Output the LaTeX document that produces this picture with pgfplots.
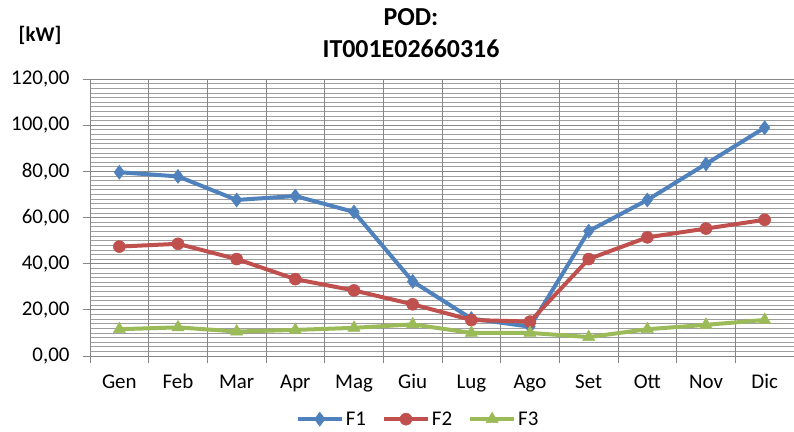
\documentclass[border=0pt]{standalone}
\usepackage{pgfplots}
\pgfplotsset{compat=1.18}
\usepackage{fontspec}
\setmainfont{Carlito}
\definecolor{cF1}{HTML}{4F81BD}
\definecolor{cF2}{HTML}{C0504D}
\definecolor{cF3}{HTML}{9BBB59}
\definecolor{gridc}{HTML}{868686}
\begin{document}
\begin{tikzpicture}
\useasboundingbox (-90bp,-76bp) rectangle (704bp,356bp);
\begin{axis}[
  at={(0,0)}, anchor=south west,
  scale only axis, width=704bp, height=277bp,
  xmin=-0.5, xmax=11.5, ymin=0, ymax=120,
  axis lines=left, axis line style={-, draw=gridc, line width=0.9bp},
  xtick={0,...,11},
  xticklabels={Gen,Feb,Mar,Apr,Mag,Giu,Lug,Ago,Set,Ott,Nov,Dic},
  xtick style={draw=none},
  extra x ticks={-0.5,0.5,...,11.5},
  extra x tick labels={},
  extra x tick style={grid=major, xtick style={draw=gridc, line width=0.9bp}},
  ytick={0,20,...,120},
  minor y tick num=9,
  ymajorgrids, yminorgrids,
  major grid style={draw=gridc, line width=0.9bp},
  minor grid style={draw=gridc!80, line width=0.6bp},
  tick align=outside, major tick length=7bp, minor tick length=0pt,
  ytick style={draw=gridc, line width=0.9bp},
  ticklabel style={font=\fontsize{21}{25}\selectfont, text=black},
  yticklabel style={xshift=-10bp, /pgf/number format/.cd, fixed, fixed zerofill, precision=2, use comma, assume math mode=true},
  xticklabel style={yshift=-15bp, text height=0.75em, text depth=0.22em},
  legend style={at={(0.466,-0.228)}, anchor=center, draw=none, legend columns=3,
    font=\fontsize{21}{25}\selectfont, /tikz/every even column/.append style={column sep=14bp}},
  legend image code/.code={\draw[mark repeat=2, mark phase=2] plot coordinates {(0bp,0bp) (22bp,0bp) (44bp,0bp)};},
  clip=false,
]
\addplot[cF1, line width=4bp, mark=diamond*, mark size=7bp, mark options={line width=0.5bp}] coordinates {
(0,79.6) (1,77.8) (2,67.6) (3,69.3) (4,62.4) (5,32.3) (6,16.2) (7,12.7) (8,54.1) (9,67.6) (10,83.2) (11,98.9)};
\addplot[cF2, line width=4bp, mark=*, mark size=6bp, mark options={line width=0.5bp}] coordinates {
(0,47.4) (1,48.6) (2,42.0) (3,33.3) (4,28.4) (5,22.4) (6,15.6) (7,14.9) (8,42.0) (9,51.4) (10,55.2) (11,59.0)};
\addplot[cF3, line width=4bp, mark=triangle*, mark size=7bp, mark options={line width=0.5bp}] coordinates {
(0,11.6) (1,12.4) (2,10.6) (3,11.3) (4,12.2) (5,13.7) (6,10.0) (7,10.0) (8,8.2) (9,11.6) (10,13.5) (11,15.6)};
\legend{F1,F2,F3}
\end{axis}
\node[font=\fontsize{26}{30}\selectfont\bfseries] at (321bp,338.5bp) {POD:};
\node[font=\fontsize{26}{30}\selectfont\bfseries] at (321bp,307.5bp) {IT001E02660316};
\node[font=\fontsize{21}{25}\selectfont\bfseries] at (-50bp,321bp) {[kW]};
\end{tikzpicture}
\end{document}
